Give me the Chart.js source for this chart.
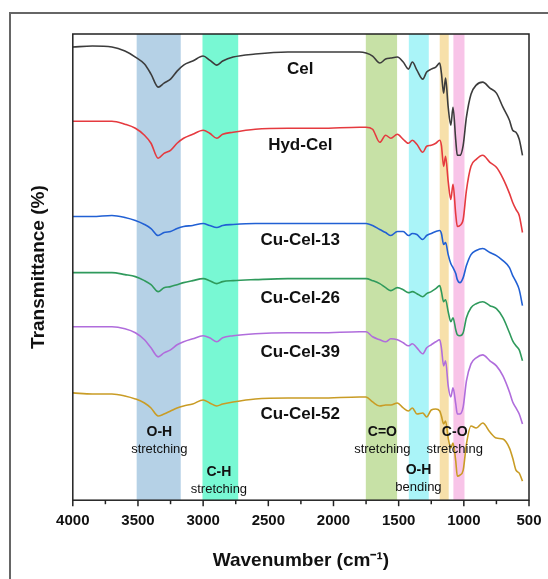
<!DOCTYPE html>
<html>
<head>
<meta charset="utf-8">
<script src="https://cdn.jsdelivr.net/npm/chart.js@4.4.0/dist/chart.umd.min.js"></script>
<style>
  html, body { margin: 0; padding: 0; background: #fff; }
  #wrap { width: 548px; height: 579px; }
</style>
</head>
<body>
<div id="wrap"><canvas id="ftirChart"></canvas></div>
<script>
// wavenumber (cm-1) sampling points
const wavenumbers = [4000, 3850, 3700, 3600, 3520, 3450, 3400, 3345, 3300, 3250,
  3200, 3150, 3080, 3000, 2950, 2895, 2850, 2770, 2600, 2350,
  2100, 1800, 1750, 1700, 1645, 1600, 1560, 1510, 1465, 1425,
  1395, 1360, 1315, 1285, 1250, 1215, 1185, 1172, 1155, 1140,
  1120, 1100, 1083, 1062, 1050, 1030, 1005, 980, 945, 905,
  855, 800, 750, 700, 650, 625, 600, 575, 550];

// transmittance, arbitrary units, curves already stacked
const cel = [452, 453, 452, 448, 442, 435, 425, 412, 416, 420,
  428, 434, 438, 443, 439, 434, 438, 442, 445, 447,
  447, 447, 446, 443, 436, 440, 441, 442, 437, 430,
  437, 429, 420, 427, 430, 432, 436, 426, 406, 421,
  392, 374, 392, 359, 344, 344, 354, 382, 405, 414,
  417, 411, 406, 392, 379, 369, 367, 360, 344];
const hydCel = [378, 378, 378, 375, 371, 364, 356, 341, 346, 349,
  356, 361, 365, 369, 366, 361, 365, 367, 370, 371,
  371, 372, 372, 370, 357, 364, 361, 365, 360, 356,
  359, 355, 347, 353, 354, 356, 359, 354, 333, 343,
  318, 300, 315, 285, 273, 274, 280, 309, 333, 340,
  344, 337, 332, 321, 306, 297, 290, 284, 267];
const cuCel13 = [283, 283, 284, 282, 279, 275, 271, 264, 267, 268,
  271, 273, 274, 276, 274, 272, 274, 275, 276, 276,
  276, 276, 276, 274, 270, 267, 264, 268, 268, 264,
  266, 265, 260, 264, 266, 268, 269, 266, 255, 257,
  245, 236, 232, 226, 220, 217, 222, 234, 245, 249,
  251, 247, 244, 239, 232, 224, 218, 210, 194];
const cuCel26 = [227, 227, 227, 225, 223, 219, 215, 208, 212, 213,
  215, 217, 219, 221, 219, 216, 218, 219, 220, 221,
  221, 221, 221, 219, 216, 212, 209, 212, 210, 207,
  208, 206, 203, 206, 208, 211, 214, 208, 198, 200,
  188, 178, 182, 170, 165, 164, 167, 182, 192, 196,
  198, 194, 191, 182, 167, 159, 154, 150, 139];
const cuCel39 = [173, 173, 173, 171, 167, 160, 152, 143, 147, 150,
  155, 158, 161, 164, 162, 158, 162, 164, 166, 167,
  167, 168, 168, 163, 160, 158, 161, 160, 157, 154,
  156, 152, 146, 152, 155, 158, 160, 152, 134, 139,
  114, 103, 112, 96, 86, 86, 93, 119, 136, 142,
  145, 139, 134, 124, 108, 98, 92, 86, 76];
const cuCel52 = [107, 106, 106, 104, 101, 97, 92, 84, 86, 89,
  92, 94, 96, 100, 97, 94, 96, 98, 101, 102,
  102, 103, 103, 98, 94, 95, 95, 97, 92, 89,
  92, 86, 87, 83, 90, 91, 89, 84, 76, 79,
  62, 52, 57, 39, 24, 25, 30, 56, 74, 72,
  77, 68, 62, 61, 52, 42, 30, 27, 19];

const sampleNames = ['Cel', 'Hyd-Cel', 'Cu-Cel-13', 'Cu-Cel-26', 'Cu-Cel-39', 'Cu-Cel-52'];
const lineColors = ['#3c3c3c', '#e53a3f', '#2160d4', '#2f9a5c', '#b06ddc', '#c99c25'];

// shaded bands (cm-1)
const bandFrom = [3510, 3005, 1752, 1422, 1185, 1080];
const bandTo = [3172, 2731, 1512, 1269, 1116, 995];
const bandColors = ['#b5d1e6', '#78f8d3', '#c7e1a6', '#aaf4f8', '#f7e0aa', '#f8c4e8'];

// peak assignment labels
const peakTitles = ['O-H', 'C-H', 'C=O', 'O-H', 'C-O'];
const peakModes = ['stretching', 'stretching', 'stretching', 'bending', 'stretching'];
const peakLabelX = [3336, 2879, 1625, 1348, 1070];
const peakLabelY = [68, 28, 68, 30, 68];

const nameLabelX = 2255;
const nameLabelY = [430, 354, 259, 201, 148, 86];

const FONT = '"Liberation Sans", Arial, sans-serif';

const series = [cel, hydCel, cuCel13, cuCel26, cuCel39, cuCel52];
const datasets = series.map((vals, i) => ({
  label: sampleNames[i],
  data: wavenumbers.map((w, j) => ({ x: w, y: vals[j] })),
  borderColor: lineColors[i],
  borderWidth: 1.6,
  pointRadius: 0,
  fill: false,
  cubicInterpolationMode: 'monotone'
}));

const decorPlugin = {
  id: 'decor',
  beforeDatasetsDraw(chart) {
    const { ctx, chartArea: a, scales: { x } } = chart;
    ctx.save();
    bandFrom.forEach((f, i) => {
      const x1 = x.getPixelForValue(f);
      const x2 = x.getPixelForValue(bandTo[i]);
      ctx.fillStyle = bandColors[i];
      ctx.fillRect(x1, a.top, x2 - x1, a.bottom - a.top);
    });
    ctx.restore();
  },
  afterDatasetsDraw(chart) {
    const { ctx, scales: { x, y } } = chart;
    ctx.save();
    ctx.fillStyle = '#111';
    ctx.textAlign = 'center';
    ctx.textBaseline = 'middle';
    ctx.font = 'bold 17px ' + FONT;
    sampleNames.forEach((n, i) => {
      ctx.fillText(n, x.getPixelForValue(nameLabelX), y.getPixelForValue(nameLabelY[i]));
    });
    peakTitles.forEach((t, i) => {
      const px = x.getPixelForValue(peakLabelX[i]);
      const py = y.getPixelForValue(peakLabelY[i]);
      ctx.font = 'bold 14px ' + FONT;
      ctx.fillText(t, px, py);
      ctx.font = '13px ' + FONT;
      ctx.fillText(peakModes[i], px, py + 17);
    });
    ctx.restore();
  },
  afterDraw(chart) {
    const { ctx, chartArea: a, scales: { x } } = chart;
    ctx.save();
    // outer figure frame
    ctx.strokeStyle = '#666';
    ctx.lineWidth = 2;
    ctx.strokeRect(10, 13, 700, 700);
    // plot box
    ctx.strokeStyle = '#222';
    ctx.lineWidth = 1.5;
    ctx.strokeRect(a.left, a.top, a.right - a.left, a.bottom - a.top);
    // bottom ticks, major every 500, minor every 250
    for (let w = 500; w <= 4000; w += 250) {
      const px = x.getPixelForValue(w);
      const len = w % 500 === 0 ? 6 : 4;
      ctx.beginPath();
      ctx.moveTo(px, a.bottom);
      ctx.lineTo(px, a.bottom + len);
      ctx.stroke();
    }
    ctx.restore();
  }
};

new Chart(document.getElementById('ftirChart'), {
  type: 'line',
  data: { datasets },
  options: {
    responsive: true,
    maintainAspectRatio: false,
    animation: false,
    devicePixelRatio: 1,
    layout: { padding: { left: 10, right: 19, top: 34, bottom: 3 } },
    plugins: { legend: { display: false }, tooltip: { enabled: false } },
    scales: {
      x: {
        type: 'linear',
        reverse: true,
        min: 500,
        max: 4000,
        border: { display: false },
        grid: { display: false, drawTicks: false },
        ticks: {
          stepSize: 500,
          padding: 12,
          color: '#111',
          font: { family: FONT, size: 15, weight: 'bold' },
          callback: (v) => String(v)
        },
        title: {
          display: true,
          text: 'Wavenumber (cm⁻¹)',
          color: '#111',
          padding: { top: 7, bottom: 4 },
          font: { family: FONT, size: 19, weight: 'bold' }
        },
        afterFit(scale) {
          scale.paddingLeft = 0;
          scale.paddingRight = 0;
        }
      },
      y: {
        min: 0,
        max: 465,
        border: { display: false },
        grid: { display: false, drawTicks: false },
        ticks: { display: false },
        title: {
          display: true,
          text: 'Transmittance (%)',
          color: '#111',
          padding: { top: 17, bottom: 23 },
          font: { family: FONT, size: 19, weight: 'bold' }
        }
      }
    }
  },
  plugins: [decorPlugin]
});
</script>
</body>
</html>
